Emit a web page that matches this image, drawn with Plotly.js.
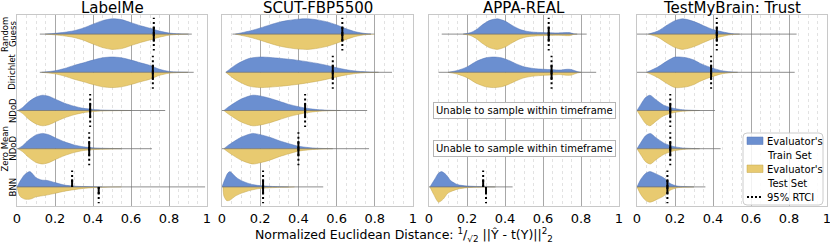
<!DOCTYPE html>
<html>
<head>
<meta charset="utf-8">
<script src="https://cdn.plot.ly/plotly-3.0.1.min.js"></script>
<style>html,body{margin:0;padding:0;background:#fff;}#chart{width:830px;height:247px;}</style>
</head>
<body>
<div id="chart"></div>
<script>
// ---------- DATA ----------
const datasets = ['LabelMe', 'SCUT-FBP5500', 'APPA-REAL', 'TestMyBrain: Trust'];
const methods = ['Random<br>Guess', 'Dirichlet', 'NDoD', 'Zero Mean<br>NDoD', 'BNN'];
const xTickVals = [0, 0.2, 0.4, 0.6, 0.8, 1];
const xTickText = ['0', '0.2', '0.4', '0.6', '0.8', '1'];

// density profiles [x, relative density] per method (train half); test half same unless given
const labelmeTrain = [
  [[0.15,0],[0.2,0.05],[0.25,0.12],[0.3,0.22],[0.35,0.4],[0.4,0.65],[0.45,0.88],[0.5,1.0],[0.55,0.95],[0.6,0.75],[0.65,0.55],[0.7,0.38],[0.75,0.2],[0.8,0.07],[0.85,0.02],[0.9,0]],
  [[0.13,0],[0.2,0.1],[0.25,0.25],[0.3,0.45],[0.35,0.62],[0.4,0.8],[0.45,0.95],[0.5,1.0],[0.55,0.95],[0.6,0.8],[0.65,0.62],[0.7,0.45],[0.75,0.2],[0.8,0.06],[0.85,0.02],[0.9,0]],
  [[0.005,0],[0.03,0.2],[0.06,0.55],[0.1,0.88],[0.135,1.0],[0.17,0.92],[0.2,0.75],[0.25,0.48],[0.3,0.28],[0.35,0.14],[0.4,0.07],[0.45,0.03],[0.5,0.015],[0.6,0]],
  [[0.005,0],[0.03,0.2],[0.06,0.55],[0.1,0.9],[0.135,1.0],[0.17,0.9],[0.2,0.72],[0.25,0.45],[0.3,0.25],[0.35,0.12],[0.4,0.06],[0.45,0.03],[0.55,0]],
  [[0.0,0],[0.02,0.45],[0.04,0.8],[0.068,1.0],[0.1,0.6],[0.13,0.45],[0.16,0.42],[0.2,0.28],[0.25,0.12],[0.3,0.05],[0.35,0.02],[0.45,0]]
];
const labelmeTestBNN = [[0.0,0],[0.015,0.6],[0.04,0.8],[0.07,0.8],[0.1,0.65],[0.15,0.55],[0.2,0.42],[0.25,0.28],[0.3,0.18],[0.35,0.1],[0.4,0.05],[0.5,0.01],[0.55,0]];

const scutTrain = [
  [[0.07,0],[0.1,0.08],[0.15,0.22],[0.2,0.4],[0.25,0.6],[0.3,0.78],[0.35,0.9],[0.4,0.98],[0.45,1.0],[0.5,0.93],[0.55,0.8],[0.6,0.6],[0.65,0.35],[0.7,0.15],[0.75,0.04],[0.8,0]],
  [[0.02,0],[0.05,0.3],[0.08,0.55],[0.14,0.9],[0.2,1.0],[0.3,0.92],[0.4,0.78],[0.5,0.58],[0.55,0.45],[0.6,0.3],[0.65,0.17],[0.7,0.08],[0.75,0.03],[0.82,0]],
  [[0.01,0],[0.03,0.2],[0.06,0.45],[0.1,0.75],[0.16,1.0],[0.2,0.95],[0.25,0.8],[0.3,0.6],[0.35,0.4],[0.4,0.25],[0.45,0.13],[0.5,0.06],[0.55,0.02],[0.62,0]],
  [[0.01,0],[0.03,0.2],[0.06,0.45],[0.1,0.75],[0.16,1.0],[0.2,0.92],[0.25,0.75],[0.3,0.52],[0.35,0.33],[0.4,0.16],[0.45,0.08],[0.5,0.03],[0.58,0]],
  [[0.0,0],[0.015,0.5],[0.03,0.9],[0.042,1.0],[0.06,0.8],[0.08,0.57],[0.11,0.36],[0.16,0.15],[0.21,0.07],[0.28,0.02],[0.35,0]]
];
const scutTestBNN = [[0.005,0],[0.01,0.6],[0.025,0.9],[0.04,0.88],[0.07,0.6],[0.1,0.42],[0.15,0.22],[0.2,0.1],[0.3,0.03],[0.38,0]];

const appaTrain = [
  [[0.18,0],[0.22,0.1],[0.25,0.3],[0.28,0.6],[0.32,0.9],[0.36,1.0],[0.4,0.85],[0.44,0.55],[0.48,0.3],[0.52,0.17],[0.56,0.12],[0.62,0.09],[0.68,0.08],[0.72,0.1],[0.74,0.1],[0.76,0.03],[0.78,0]],
  [[0.1,0],[0.15,0.12],[0.2,0.35],[0.25,0.72],[0.3,0.95],[0.34,1.0],[0.38,0.95],[0.42,0.78],[0.46,0.55],[0.5,0.36],[0.55,0.25],[0.6,0.2],[0.65,0.17],[0.69,0.15],[0.73,0.2],[0.75,0.18],[0.78,0.05],[0.8,0]],
  null,
  null,
  [[0.005,0],[0.03,0.5],[0.05,0.9],[0.067,1.0],[0.09,0.8],[0.115,0.4],[0.15,0.15],[0.2,0.06],[0.27,0.02],[0.35,0]]
];
const appaTestBNN = [[0.005,0],[0.025,0.5],[0.05,1.0],[0.075,0.8],[0.1,0.4],[0.15,0.15],[0.2,0.05],[0.3,0.01],[0.35,0]];

const tmbTrain = [
  [[0.06,0],[0.11,0.2],[0.16,0.6],[0.2,0.88],[0.24,1.0],[0.28,0.9],[0.32,0.72],[0.35,0.55],[0.4,0.3],[0.46,0.12],[0.5,0.03],[0.54,0]],
  [[0.05,0],[0.11,0.35],[0.16,0.75],[0.2,1.0],[0.26,0.95],[0.3,0.8],[0.33,0.6],[0.38,0.35],[0.44,0.12],[0.49,0.03],[0.53,0]],
  [[0.0,0],[0.02,0.4],[0.045,0.85],[0.068,1.0],[0.1,0.7],[0.14,0.35],[0.19,0.15],[0.24,0.05],[0.3,0.01],[0.33,0]],
  [[0.0,0],[0.02,0.4],[0.045,0.85],[0.07,1.0],[0.1,0.72],[0.14,0.38],[0.19,0.15],[0.24,0.05],[0.3,0.01],[0.33,0]],
  [[0.0,0],[0.02,0.5],[0.045,0.88],[0.068,1.0],[0.1,0.85],[0.14,0.6],[0.175,0.22],[0.21,0.06],[0.25,0.02],[0.3,0]]
];

// extent (min, max) of each distribution
const tailMin = [[0.12,0.12,0.0,0.0,0.0],[0.055,0.02,0.0,0.0,0.0],[0.067,0.05,null,null,0.0],[0.0,0.0,0.0,0.0,0.0]];
const tailMax = [[0.92,0.93,0.78,0.71,0.99],[0.78,0.89,0.76,0.77,0.53],[0.83,0.88,null,null,0.44],[0.84,0.83,0.41,0.44,0.36]];

// 95% RTCI per dataset / method
const rtciTrain = [[0.72,0.715,0.385,0.38,0.29],[0.63,0.58,0.435,0.40,0.215],[0.63,0.645,null,null,0.285],[0.42,0.39,0.175,0.175,0.16]];
const rtciTest  = [[0.72,0.715,0.385,0.38,0.43],[0.63,0.58,0.435,0.40,0.215],[0.63,0.645,null,null,0.30],[0.42,0.39,0.175,0.175,0.16]];

const unavailableText = 'Unable to sample within timeframe';

// ---------- BUILD ----------
const trainProfiles = [labelmeTrain, scutTrain, appaTrain, tmbTrain];
const testProfiles = [
  labelmeTrain.map((p, i) => i === 4 ? labelmeTestBNN : p),
  scutTrain.map((p, i) => i === 4 ? scutTestBNN : p),
  appaTrain.map((p, i) => i === 4 ? appaTestBNN : p),
  tmbTrain
];

const BLUE = '#6b8fd0', BLUE_EDGE = '#5474b4';
const YEL = '#e8ca70', YEL_EDGE = '#c2a44c';
const S = 0.4; // half-width of violin in row units
const FONT = 'DejaVu Sans, Liberation Sans, sans-serif';

const ML = 17, MR = 3, MT = 15, MB = 41, W = 830, H = 247;
const PW = W - ML - MR, PH = H - MT - MB;
const px = x => (x - ML) / PW;
const py = y => (H - MB - y) / PH;
const panelPx = [[17, 207], [222, 413], [429, 619], [637, 827]];

const traces = [];
datasets.forEach((ds, k) => {
  const xa = 'x' + (k === 0 ? '' : k + 1), ya = 'y' + (k === 0 ? '' : k + 1);
  methods.forEach((m, r) => {
    const tr = trainProfiles[k][r], te = testProfiles[k][r];
    if (tr) {
      traces.push({type: 'scatter', mode: 'lines', xaxis: xa, yaxis: ya, showlegend: false, hoverinfo: 'skip',
        x: tr.map(p => p[0]), y: tr.map(p => r - p[1] * S), fill: 'toself', fillcolor: BLUE,
        line: {color: BLUE_EDGE, width: 0.5, shape: 'spline', smoothing: 0.7}});
      traces.push({type: 'scatter', mode: 'lines', xaxis: xa, yaxis: ya, showlegend: false, hoverinfo: 'skip',
        x: te.map(p => p[0]), y: te.map(p => r + p[1] * S), fill: 'toself', fillcolor: YEL,
        line: {color: YEL_EDGE, width: 0.5, shape: 'spline', smoothing: 0.7}});
    }
    if (tailMin[k][r] !== null) {
      traces.push({type: 'scatter', mode: 'lines', xaxis: xa, yaxis: ya, showlegend: false, hoverinfo: 'skip',
        x: [tailMin[k][r], tailMax[k][r]], y: [r, r], line: {color: '#707070', width: 0.8}});
    }
    const a = rtciTrain[k][r], b = rtciTest[k][r];
    if (a !== null) {
      traces.push({type: 'scatter', mode: 'lines', xaxis: xa, yaxis: ya, showlegend: false, hoverinfo: 'skip',
        x: [a, a], y: [r, r - 0.43], line: {color: '#000', width: 2, dash: '2px,3px'}});
      traces.push({type: 'scatter', mode: 'lines', xaxis: xa, yaxis: ya, showlegend: false, hoverinfo: 'skip',
        x: [a, a], y: [r, r - 0.2], line: {color: '#000', width: 2}});
      traces.push({type: 'scatter', mode: 'lines', xaxis: xa, yaxis: ya, showlegend: false, hoverinfo: 'skip',
        x: [b, b], y: [r, r + 0.43], line: {color: '#000', width: 2, dash: '2px,3px'}});
      traces.push({type: 'scatter', mode: 'lines', xaxis: xa, yaxis: ya, showlegend: false, hoverinfo: 'skip',
        x: [b, b], y: [r, r + 0.2], line: {color: '#000', width: 2}});
    }
  });
});

const layout = {
  width: W, height: H,
  margin: {l: ML, r: MR, t: MT, b: MB},
  paper_bgcolor: '#fff', plot_bgcolor: '#fff',
  font: {family: FONT, color: '#000'},
  showlegend: false,
  annotations: [], shapes: []
};

datasets.forEach((ds, k) => {
  const sfx = k === 0 ? '' : String(k + 1);
  const dom = [px(panelPx[k][0]), px(panelPx[k][1])];
  layout['xaxis' + sfx] = {
    domain: dom, range: [0, 1], anchor: 'y' + sfx,
    tickvals: xTickVals, ticktext: xTickText, ticks: '', ticklabeloverflow: 'allow',
    tickfont: {size: 13, family: FONT, color: '#000'},
    showgrid: true, gridcolor: '#a8a8a8', gridwidth: 1,
    minor: {dtick: 0.05, tick0: 0, showgrid: true, gridcolor: '#e2e2e2', griddash: 'dot', gridwidth: 1},
    zeroline: false, showline: true, mirror: true, linecolor: '#c8c8c8', linewidth: 1
  };
  layout['yaxis' + sfx] = {
    domain: [0, 1], range: [4.5, -0.5], anchor: 'x' + sfx,
    showgrid: false, zeroline: false, showline: true, mirror: true, linecolor: '#c8c8c8', linewidth: 1,
    ticks: '', showticklabels: false
  };
  layout.annotations.push({
    text: ds, xref: 'x' + sfx + ' domain', x: 0.5, yref: 'paper', y: py(8), yanchor: 'middle',
    showarrow: false, font: {size: 15, family: FONT, color: '#000'}
  });
});

// method labels on the left (rotated); two-line labels placed line by line
methods.forEach((m, r) => {
  const lines = m.split('<br>');
  const xs = lines.length === 2 ? [4.8, 13] : [12.5];
  lines.forEach((ln, i) => layout.annotations.push({
    text: ln, xref: 'paper', x: px(xs[i]), yref: 'y', y: r, textangle: -90,
    xanchor: 'center', yanchor: 'middle', showarrow: false,
    font: {size: 8.5, family: FONT, color: '#000'}
  }));
});

// unavailable boxes in APPA-REAL
methods.forEach((m, r) => {
  if (trainProfiles[2][r] === null) {
    layout.annotations.push({
      text: unavailableText, xref: 'x3', x: 0.5, yref: 'y3', y: r, showarrow: false,
      font: {size: 10, family: FONT, color: '#000'}, bgcolor: '#fff', bordercolor: '#b5b5b5', borderwidth: 1, borderpad: 2
    });
  }
});

// x axis title
layout.annotations.push({
  text: 'Normalized Euclidean Distance: <sup>1</sup>/<sub>√2</sub> ||Ŷ - t(Y)||<sup>2</sup><sub>2</sub>',
  xref: 'paper', yref: 'paper', x: px(253), y: py(235), xanchor: 'left', yanchor: 'middle',
  showarrow: false, font: {size: 12.5, family: FONT, color: '#000'}
});

// legend (custom)
const rx = 4 / PW, ry = 4 / PH;
const L0 = px(743), L1 = px(823), T0 = py(133), B0 = py(205);
layout.shapes.push({
  type: 'path', xref: 'paper', yref: 'paper', layer: 'above',
  path: `M ${L0 + rx} ${T0} L ${L1 - rx} ${T0} Q ${L1} ${T0} ${L1} ${T0 - ry} L ${L1} ${B0 + ry} Q ${L1} ${B0} ${L1 - rx} ${B0} L ${L0 + rx} ${B0} Q ${L0} ${B0} ${L0} ${B0 + ry} L ${L0} ${T0 - ry} Q ${L0} ${T0} ${L0 + rx} ${T0} Z`,
  fillcolor: 'rgba(255,255,255,0.85)', line: {color: '#cccccc', width: 1}
});
layout.shapes.push({type: 'rect', xref: 'paper', yref: 'paper', x0: px(747), x1: px(763), y0: py(144.5), y1: py(137),
  fillcolor: BLUE, line: {color: BLUE_EDGE, width: 0.5}});
layout.shapes.push({type: 'rect', xref: 'paper', yref: 'paper', x0: px(747), x1: px(763), y0: py(172.5), y1: py(165),
  fillcolor: YEL, line: {color: YEL_EDGE, width: 0.5}});
layout.shapes.push({type: 'line', xref: 'paper', yref: 'paper', x0: px(747), x1: px(763), y0: py(197), y1: py(197),
  line: {color: '#000', width: 2, dash: '2px,2px'}});
const legendTexts = [["Evaluator's", 141], ['Train Set', 155], ["Evaluator's", 169], ['Test Set', 183], ['95% RTCI', 197]];
legendTexts.forEach(t => layout.annotations.push({
  text: t[0], xref: 'paper', yref: 'paper', x: px(765), y: py(t[1]), xanchor: 'left', yanchor: 'middle',
  showarrow: false, font: {size: 10, family: FONT, color: '#000'}
}));

Plotly.newPlot('chart', traces, layout, {staticPlot: true, displayModeBar: false});
</script>
</body>
</html>
